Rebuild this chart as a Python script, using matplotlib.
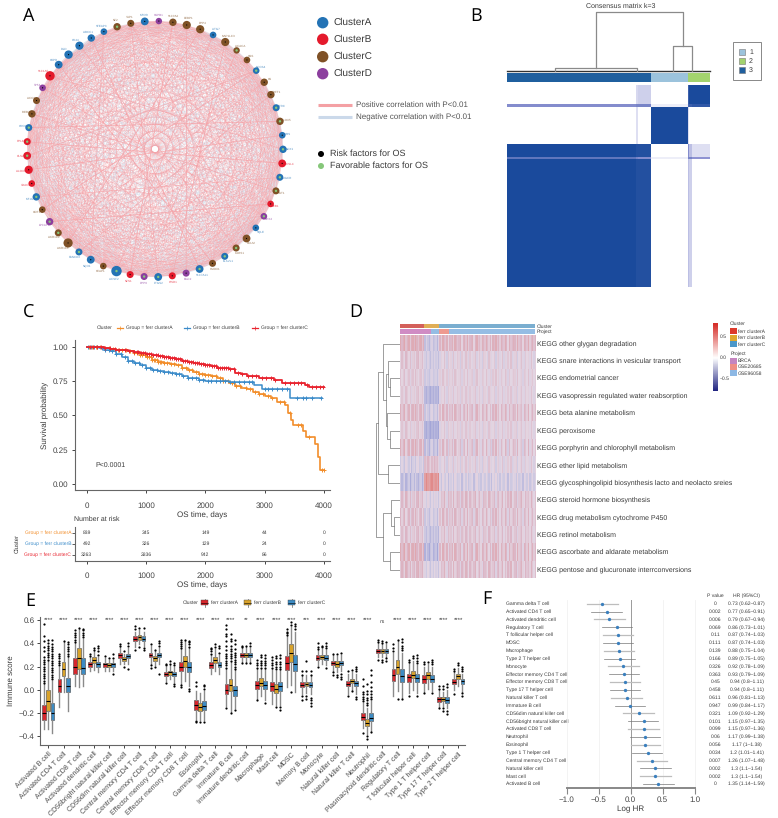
import numpy as np
import matplotlib
matplotlib.use("Agg")
import matplotlib.pyplot as plt
from matplotlib.collections import LineCollection
from matplotlib.colors import LinearSegmentedColormap
from matplotlib.patches import Circle, Rectangle

plt.rcParams['font.family'] = ['Liberation Sans', 'DejaVu Sans']
plt.rcParams['axes.linewidth'] = 0.8
plt.rcParams['text.hinting'] = 'no_hinting'
plt.rcParams['text.hinting_factor'] = 1

W, H = 778, 818
TXT = '#3a3a3a'
AX_GRAY = '#666666'

# --- Panel A data (clockwise from the top node) ---
node_cluster = list("DCCCACCCACCACAABACBDACCACADBADBACAACCDCABBBBACCDBAAAAACCA")
node_size = [3.2, 3.7, 4.1, 4.1, 3.3, 4.1, 3.2, 3.3, 3.3, 3.7, 3.7, 3.5, 3.7, 3.3, 3.7, 3.9, 3.5, 3.5,
             3.3, 3.3, 3.3, 3.9, 3.5, 3.5, 3.5, 3.9, 3.5, 3.5, 3.9, 3.5, 3.5, 5.2, 3.3, 3.9, 3.5, 4.6,
             3.5, 3.7, 3.3, 3.7, 3.3, 4.1, 3.9, 3.5, 3.5, 3.7, 3.5, 3.3, 4.7, 3.9, 4.2, 4.1, 3.7, 3.3,
             3.7, 3.5, 3.9]
node_factor = list("RRRRRRFRFRRFFRFRFFRFRRFFRFRRFFRFRRFRFFRFRRFFFRRRRRRRRRFRR")
node_genes = ["HSPB1", "SLC3A2", "PEBP1", "DPP4", "ATG7", "MAP1LC3", "ACACA", "GSS", "NCOA4", "CS", "FDFT1", "TFRC",
              "ALOX5", "CBS", "NOX1", "ACSL4", "HMGCR", "SAT1", "ZEB1", "GPX4", "SQLE", "GCLM", "CARS1", "ELAVL1",
              "HMOX1", "SLC7A11", "EMC2", "CISD1", "PTGS2", "DPP9", "NFS1", "ACSF2", "KEAP1", "NQO1", "FANCD2", "AKR1C1",
              "AKR1C2", "LPCAT3", "GOT1", "MT1G", "VDAC2", "ALOX15", "GLS2", "RPL8", "CDO1", "IREB2", "ACO1", "TP53",
              "SLC1A5", "G6PD", "PGD", "CD44", "ABCC1", "STEAP3", "NF2", "YAP1", "MTOR"]
# two loadings per node, their dot product stands for the pair correlation
load_1 = [.62, .81, .33, .93, -.52, .78, .14, .71, .47, .86, -.41, .95, .29, .66, -.63, .84, .52, .18, .91, .37, .79, -.55, .68, .93,
          .24, .57, -.72, .83, .41, .96, .12, .74, .88, -.38, .59, .97, .31, .53, .82, -.64, .72, .21, .49, .67, .85, .36, -.47, .92,
          .58, .77, .16, -.61, .44, .89, .83, .27, .7]
load_2 = [-.31, .42, .78, -.12, .55, .23, -.66, .38, .71, -.27, .63, .09, -.74, .35, .48, -.19, .82, -.58, .14, .69, -.36, .27, .57, -.41,
          .76, -.62, .18, .33, -.71, .06, .84, -.28, .22, .67, -.53, .11, .73, -.47, .29, .44, -.17, .79, -.64, .39, -.24, .68, .52, -.08,
          -.57, .32, .81, .26, -.69, .13, -.34, .75, .21]
strong_edges = [(55, 21), (55, 28), (8, 42), (8, 38), (27, 5), (12, 44), (48, 14), (30, 1), (24, 49), (18, 37), (51, 22), (41, 13),
                (36, 9), (39, 16), (4, 31), (2, 26), (45, 17), (33, 53), (47, 19), (10, 34), (6, 29), (25, 52), (43, 15), (3, 35)]
cluster_colors = {'A': '#2473b5', 'B': '#e41a2c', 'C': '#7f5126', 'D': '#8c3f9e'}

# --- Panel B data ---
consensus_cols = [82, 468, 474, 513, 623, 628, 637, 690]
consensus_rows = [255, 311, 320, 432, 470, 476, 860]
consensus = [[0.00, 0.18, 0.22, 0.00, 0.85, 1.00, 1.00],
             [0.55, 0.60, 0.60, 0.08, 0.80, 0.85, 0.90],
             [0.00, 0.15, 0.00, 1.00, 0.15, 0.00, 0.00],
             [1.00, 0.96, 0.96, 0.00, 0.55, 0.30, 0.15],
             [0.70, 0.60, 0.55, 0.08, 0.60, 0.60, 0.50],
             [1.00, 0.96, 0.96, 0.00, 0.30, 0.22, 0.00]]
consensus_bar = [(82, 513, '#1f5f9e'), (513, 623, '#9cc3dc'), (623, 690, '#a3d36e')]

# --- Panel C data ---
km_a_t = [0, 200, 300, 400, 500, 600, 700, 800, 900, 1000, 1100, 1200, 1300, 1400, 1500, 1600, 1700, 1800, 1900, 2000, 2100, 2200, 2300, 2400,
          2500, 2600, 2700, 2800, 2900, 3000, 3100, 3200, 3340, 3400, 3440, 3480, 3640, 3700, 3850, 3900, 3930, 4000]
km_a_s = [1.0, 1.0, .995, .985, .98, .975, .97, .955, .94, .925, .905, .89, .88, .875, .865, .85, .83, .815, .805, .795, .785, .77, .755, .735,
          .715, .70, .69, .675, .66, .64, .625, .60, .58, .52, .47, .43, .39, .34, .29, .20, .10, .10]
km_b_t = [0, 200, 300, 400, 500, 600, 700, 800, 900, 1000, 1100, 1200, 1300, 1400, 1500, 1600, 1700, 1800, 1900, 2000, 2400, 2820, 2950, 3430, 3960]
km_b_s = [1.0, .995, .98, .97, .95, .93, .90, .885, .87, .85, .83, .825, .815, .81, .80, .785, .775, .77, .76, .75, .745, .72, .695, .625, .625]
km_c_t = [0, 300, 400, 500, 600, 700, 800, 900, 1000, 1100, 1200, 1300, 1400, 1500, 1600, 1700, 1800, 1900, 2000, 2100, 2200, 2300, 2400, 2500, 2600, 2700, 2900, 3000, 3150, 3300, 3600, 3680, 3750, 4000]
km_c_s = [1.0, .995, .985, .98, .975, .97, .965, .955, .95, .943, .935, .928, .92, .91, .90, .892, .885, .878, .87, .86, .85, .845, .84, .81, .805, .785, .775, .77, .76, .74, .74, .72, .705, .705]
cens_a = [40, 90, 150, 220, 300, 380, 450, 520, 600, 660, 730, 800, 850, 900, 940, 980, 1020, 1050, 1080, 1100, 1130, 1150, 1180, 1200, 1230, 1260, 1300, 1350, 1420, 1480, 1540,
          1600, 1680, 1730, 1780, 1850, 1900, 1950, 2000, 2050, 2120, 2180, 2240, 2300, 2380, 2450, 2520, 2590, 2680, 2750, 2830, 2900, 2980, 3050, 3120, 3260, 3330, 3420, 3560, 3620, 3750, 3970, 4000]
cens_b = [30, 70, 120, 180, 250, 310, 380, 430, 500, 570, 640, 700, 760, 820, 880, 940, 1000, 1060, 1120, 1180, 1240, 1300, 1370, 1440, 1500,
          1560, 1630, 1700, 1770, 1840, 1900, 1960, 2040, 2100, 2180, 2250, 2330, 2420, 2490, 2570, 2650, 2730, 2790, 3000, 3060, 3130, 3210, 3300, 3370, 3540, 3640, 3700, 3800, 3950]
cens_c = [50, 110, 170, 240, 310, 390, 470, 550, 640, 720, 800, 840, 870, 910, 950, 985, 1020, 1055, 1090, 1125, 1160, 1195, 1230, 1265, 1300, 1335, 1370, 1405, 1440, 1475, 1510, 1545, 1580, 1615, 1650, 1685, 1720, 1755, 1790,
          1825, 1860, 1895, 1930, 1965, 2000, 2035, 2070, 2105, 2140, 2175, 2210, 2245, 2280, 2315, 2350, 2385, 2420, 2480, 2550, 2620, 2720, 2780, 2860, 2950, 3030, 3100, 3180, 3350, 3420, 3490, 3560, 3610, 3720, 3800, 3860, 3930, 3990]
risk_times = [0, 1000, 2000, 3000, 4000]
risk_a = [839, 345, 149, 44, 0]
risk_b = [492, 326, 129, 24, 0]
risk_c = [3263, 2836, 942, 86, 0]
km_colors = ['#f28e2b', '#3b8bc9', '#e8242f']
km_names = ['Group = ferr clusterA', 'Group = ferr clusterB', 'Group = ferr clusterC']

# --- Panel D data ---
kegg_labels = ["KEGG other glygan degradation", "KEGG snare interactions in vesicular transport", "KEGG endometrial cancer",
               "KEGG vasopressin regulated water reabsorption", "KEGG beta alanine metabolism", "KEGG peroxisome",
               "KEGG porphyrin and chlorophyll metabolism", "KEGG ether lipid metabolism",
               "KEGG glycosphingolipid biosynthesis lacto and neolacto sreies", "KEGG steroid hormone biosynthesis",
               "KEGG drug metabolism cytochrome P450", "KEGG retinol metabolism", "KEGG ascorbate and aldarate metabolism",
               "KEGG pentose and glucuronate interrconversions"]
kegg_a = [.22, .08, .07, .06, .15, .06, .15, -.06, -.16, .10, .11, .09, .20, .14]
kegg_b = [-.12, -.09, -.08, -.22, -.09, -.25, -.14, .13, .46, -.03, -.08, -.14, -.19, -.05]
kegg_c = [.17, .03, .05, .04, .12, .04, .08, .02, -.06, .10, .10, .08, .14, .11]
stripe_1 = [2, -1, 1, 3, -2, 0, 2, -3, 1, 2, -1, 3, 0, -2, 1, 2, -2, 1,
            -1, 2, 0, -2, 1, 2, -1, 0, 1, -2, 2,
            1, -2, 3, 0, -1, 2, -3, 1, 0, 2, -2, 3, 1, -1, 0, 2, -3, 1, 2, -1, 3, -2, 0, 1, 2, -3, 1, 3, -1, 0, -2, 2, 1, -1, 3,
            0, -2, 1, -3, 2, 0, 3, -1, 1, -2, 2, 0, -1, 3, 1, -3, 2, -1, 0, 2, 1, -2, 3, -1, 0, 1, -3, 2, 1, -1, 3, -2, 0, 2, -1, 1]
stripe_2 = [-1, 2, 0, -2, 3, 1, -1, 2, -3, 0, 1, -2, 2, 3, -1, 0, 2, -2,
            1, -1, 2, 0, -2, 1, -1, 2, 0, 1, -2,
            -2, 1, 0, 3, -1, -3, 2, 0, 1, -2, 3, -1, 0, 2, 1, -3, 2, 0, -1, 3, 1, -2, 2, 0, -1, 1, 3, -2, 0, 2, -1, -3, 2, 1, 0,
            -2, 3, 1, -1, 0, 2, -3, 1, 2, -1, 0, 3, -2, 1, -1, 2, 0, 3, -2, -1, 1, 2, -3, 0, 1, 3, -1, -2, 2, 0, 1, -1, 3, 0, -2, 1]
kegg_amp = [.06, .05, .04, .04, .06, .04, .07, .05, .05, .06, .06, .05, .07, .06]
# nested merges: (height, left, right), a plain int is a row
kegg_tree = (72, (64, (49, 0, (42, (34, 1, (29, 2, 3)), (39, 4, (29, 5, 6)))), (34, 7, 8)),
             (49, (27, 9, (17, 10, 11)), (29, 12, 13)))

# --- Panel E data: each row is q1, median, q3, whisker low, whisker high ---
cells_e = ["Activated B cell", "Activated CD4 T cell", "Activated CD8 T cell", "Activated dendritic cell", "CD56bright natural killer cell",
           "CD56dim natural killer cell", "Central memory CD4 T cell", "Central memory CD8 T cell", "Effector memory CD4 T cell",
           "Effector memory CD8 T cell", "Eosinophil", "Gamma delta T cell", "Immature B cell", "Immature dendritic cell", "Macrophage",
           "Mast cell", "MDSC", "Memory B cell", "Monocyte", "Natural killer cell", "Natural killer T cell", "Neutrophil",
           "Plasmacytoid dendritic cell", "Regulatory T cell", "T follicular helper cell", "Type 1 T helper cell", "Type 17 T helper cell", "Type 2 T helper cell"]
sig_e = ["****"] * 28
sig_e[13] = "**"
sig_e[17] = "***"
sig_e[22] = "ns"
box_a = [(-.26, -.20, -.13, -.34, .05), (-.02, .03, .09, -.15, .20), (.14, .20, .27, .03, .40), (.20, .22, .24, .16, .28),
         (.20, .22, .23, .16, .27), (.27, .295, .32, .22, .37), (.42, .44, .46, .37, .50), (.28, .30, .32, .22, .38),
         (.12, .14, .155, .08, .20), (.16, .20, .24, .05, .35), (-.17, -.13, -.09, -.25, -.01), (.19, .215, .24, .14, .30),
         (-.04, 0, .05, -.14, .18), (.28, .30, .315, .24, .36), (.01, .045, .08, -.08, .18), (-.01, .03, .07, -.12, .18),
         (.17, .23, .29, .02, .46), (.02, .045, .065, -.04, .12), (.26, .275, .295, .21, .34), (.21, .23, .245, .16, .30),
         (.03, .05, .075, -.04, .14), (-.26, -.23, -.20, -.33, -.11), (.315, .335, .35, .28, .40), (.08, .13, .18, -.05, .32),
         (.07, .11, .14, -.03, .23), (.06, .09, .125, -.02, .20), (-.105, -.08, -.06, -.15, 0), (.05, .07, .09, 0, .15)]
box_b = [(-.18, -.10, 0, -.34, .25), (.12, .18, .24, -.02, .41), (.18, .27, .36, .02, .52), (.23, .255, .28, .17, .33),
         (.20, .215, .23, .16, .26), (.25, .265, .28, .22, .31), (.43, .45, .47, .39, .51), (.25, .27, .29, .21, .33),
         (.13, .15, .165, .09, .21), (.20, .245, .29, .08, .42), (-.185, -.15, -.11, -.26, -.03), (.23, .255, .28, .16, .35),
         (-.01, .04, .09, -.19, .24), (.28, .295, .32, .24, .37), (.03, .06, .10, -.05, .18), (-.03, .005, .05, -.13, .16),
         (.24, .32, .39, .04, .54), (.03, .05, .07, -.03, .13), (.265, .285, .30, .22, .35), (.20, .225, .245, .15, .29),
         (.055, .075, .095, 0, .15), (-.31, -.285, -.25, -.38, -.16), (.32, .335, .35, .28, .39), (.14, .20, .26, -.01, .42),
         (.10, .13, .165, 0, .25), (.09, .125, .15, .01, .22), (-.10, -.08, -.06, -.14, -.02), (.09, .115, .135, .03, .19)]
box_c = [(-.26, -.20, -.11, -.37, .08), (-.02, .03, .10, -.18, .28), (.14, .19, .27, .03, .44), (.20, .22, .24, .15, .28),
         (.20, .22, .23, .16, .26), (.27, .29, .31, .22, .36), (.42, .44, .46, .38, .50), (.28, .30, .315, .22, .36),
         (.12, .135, .155, .07, .20), (.15, .20, .24, .03, .36), (-.17, -.135, -.10, -.26, -.01), (.195, .215, .24, .14, .30),
         (-.05, 0, .03, -.16, .17), (.28, .295, .315, .24, .36), (.01, .045, .08, -.09, .18), (-.01, .03, .07, -.13, .17),
         (.16, .22, .30, -.02, .50), (.02, .045, .065, -.04, .12), (.26, .275, .295, .21, .34), (.21, .23, .25, .16, .30),
         (.03, .055, .075, -.04, .14), (-.27, -.24, -.20, -.35, -.10), (.32, .335, .35, .28, .39), (.07, .12, .175, -.07, .32),
         (.07, .105, .135, -.03, .21), (.07, .095, .125, -.01, .20), (-.11, -.085, -.06, -.16, 0), (.05, .075, .095, -.02, .14)]
flier_a = [[.06, .08, .10, .12, .14, .16, .18, .20, .22, .24, .26, .28, .33, .37, .42, .46, .57], [.21, .23, .25, .27, .29, .31], [.41, .43, .45, .47, .49, .51], [.29, .31], [.29], [.38, .39], [.34, .52, .55], [.19, .21, .39],
           [.06, .21, .22], [.02, .04, .36, .38, .39, .41, .43], [.03, .07, -.27, -.28], [.31, .33, .35, .36], [.19, .21, .23, .25, .27, .29, .31, .34, .38, .42, .46, .48, .52, .56, -.16], [.23, .37, .38], [.19, .21, .23, .26, -.09], [.19, .21, .23, .26, .28],
           [.47, .49, .50, .52], [.13, .16, -.05, -.09], [.35, .37, .40, .20], [.31, .15, .13], [.16, -.05], [-.10, -.08, -.06, -.04, -.02, .03, .09, -.37], [.41, .43, .26], [.33, .36, .39],
           [.24, .26, -.05], [.22, .24, -.03], [.01, .03, -.16], [.16, .18, -.04]]
flier_b = [[.26, .28, .30, .32, .34, .36, .38, .40, .43], [.42], [.53], [.34, .36], [.27], [.33, .20], [.53, .37], [.34, .20],
           [.22, .25], [.43], [-.28], [.37, .39], [.25, .27, .29, .31, .33, .35, .38, .42, .44, .48, -.20], [.38, .23], [.19, .21, .23, .25, .28, .30], [.18, .20, .22, .24, .27, .29, -.15],
           [.56, .58, -.02], [.16, .25, -.05, -.08], [.37, .38], [.31, .13, .11], [.17, -.01], [-.13, -.11, -.09, -.07, -.04, -.01, .05, -.40, -.42], [.40, .42, .24, .26], [.43, -.08],
           [.27, .29], [.24], [.01, .03, -.16, -.18], [.21, .23]]
flier_c = [[.09, .11, .13, .15, .17, .19, .21, .23, .25, .27, .29, .31, .33, .35, .37, .39, .43], [.29, .31, .33, .35, .37, .39, .41], [.45, .47, .49, .51, .52], [.30, .33, .36, .38], [.27, .31, .14], [.38, .40, .18], [.53, .34, .36], [.38, .40, .42, .14],
           [.21, .23, .03, .05], [.37, .39, .41, .42, -.01, .01], [.01, .03, .04, -.28], [.32, .36, .38], [.18, .20, .22, .24, .26, .28, .30, .32, .35, .39, .43, -.17], [.38, .40, .23], [.19, .21, .23, .25, .27, .30, -.11], [.18, .20, .22, .24, .27, .30, -.15, -.17],
           [.52, .55, .57], [.13, .16, -.07, -.09, -.11, -.14], [.36, .38, .40, .19], [.32, .14, .11, .09], [.16, .18, .20, -.06, -.08], [-.08, -.06, -.04, -.01, .02, .07, .13, .17, -.36], [.41, .25, .27], [.34, .36, .38, .41, .44, -.08],
           [.23, .25, .27, .30, -.05], [.22, .24, .26, -.03], [.02, .05, -.18, -.21], [.16, .18, .20, -.03, -.05]]
box_colors = ['#d8262c', '#d9a32b', '#3d8cc4']

# --- Panel F data ---
cells_f = ["Gamma delta T cell", "Activated CD4 T cell", "Activated dendritic cell", "Regulatory T cell", "T follicular helper cell", "MDSC",
           "Macrophage", "Type 2 T helper cell", "Monocyte", "Effector memory CD4 T cell", "Effector memory CD8 T cell", "Type 17 T helper cell",
           "Natural killer T cell", "Immature B cell", "CD56dim natural killer cell", "CD56bright natural killer cell", "Activated CD8 T cell",
           "Neutrophil", "Eosinophil", "Type 1 T helper cell", "Central memory CD4 T cell", "Natural killer cell", "Mast cell", "Activated B cell"]
p_vals = ["0", "0.002", "0.006", "0.069", "0.11", "0.111", "0.139", "0.166", "0.326", "0.363", "0.45", "0.458", "0.611", "0.947", "0.321", "0.101",
          "0.099", "0.06", "0.056", "0.034", "0.007", "0.002", "0.002", "0"]
hr_txt = ["0.73 (0.62–0.87)", "0.77 (0.65–0.91)", "0.79 (0.67–0.94)", "0.86 (0.73–1.01)", "0.87 (0.74–1.03)", "0.87 (0.74–1.03)", "0.88 (0.75–1.04)",
          "0.89 (0.75–1.05)", "0.92 (0.78–1.09)", "0.93 (0.79–1.09)", "0.94 (0.8–1.11)", "0.94 (0.8–1.11)", "0.96 (0.81–1.13)", "0.99 (0.84–1.17)",
          "1.09 (0.92–1.29)", "1.15 (0.97–1.35)", "1.15 (0.97–1.36)", "1.17 (0.99–1.38)", "1.17 (1–1.38)", "1.2 (1.01–1.41)", "1.26 (1.07–1.48)",
          "1.3 (1.1–1.54)", "1.3 (1.1–1.54)", "1.35 (1.14–1.59)"]
hr_val = [.73, .77, .79, .86, .87, .87, .88, .89, .92, .93, .94, .94, .96, .99, 1.09, 1.15, 1.15, 1.17, 1.17, 1.2, 1.26, 1.3, 1.3, 1.35]
hr_lo = [.62, .65, .67, .73, .74, .74, .75, .75, .78, .79, .8, .8, .81, .84, .92, .97, .97, .99, 1, 1.01, 1.07, 1.1, 1.1, 1.14]
hr_hi = [.87, .91, .94, 1.01, 1.03, 1.03, 1.04, 1.05, 1.09, 1.09, 1.11, 1.11, 1.13, 1.17, 1.29, 1.35, 1.36, 1.38, 1.38, 1.41, 1.48, 1.54, 1.54, 1.59]


def axpx(x0, y0, x1, y1):
    # axes from pixel box, y measured from the top
    ax = fig.add_axes([x0 / W, 1 - y1 / H, (x1 - x0) / W, (y1 - y0) / H])
    ax.patch.set_alpha(0)
    return ax


fig = plt.figure(figsize=(W / 100, H / 100), dpi=100)
bg = fig.add_axes([0, 0, 1, 1])
bg.set_xlim(0, W)
bg.set_ylim(H, 0)
bg.axis('off')

for letter, lx, ly in [('A', 29, 16), ('B', 476, 16), ('C', 29, 312), ('D', 356, 312), ('E', 30, 601), ('F', 487, 599)]:
    bg.text(lx, ly, letter, fontsize=13, family='Open Sans', color='black', ha='center', va='center')

# --- Panel A ---
cx, cy, rad = 155, 149, 128
n_nodes = len(node_cluster)
ang = np.pi / 2 - 0.03 - 2 * np.pi * np.arange(n_nodes) / n_nodes
nx = cx + rad * np.cos(ang)
ny = cy - rad * np.sin(ang)
neg, pos = [], []
for i in range(n_nodes):
    for j in range(i + 1, n_nodes):
        r = load_1[i] * load_1[j] + load_2[i] * load_2[j]
        seg = [(nx[i], ny[i]), (nx[j], ny[j])]
        if r > 0.34:
            pos.append(seg)
        elif r < 0.02:
            neg.append(seg)
bg.add_collection(LineCollection(neg, colors='#d0dbea', linewidths=0.3, alpha=0.6))
bg.add_collection(LineCollection(pos, colors='#f59aa0', linewidths=0.28, alpha=0.55))
strong = [[(nx[i], ny[i]), (nx[j], ny[j])] for i, j in strong_edges]
bg.add_collection(LineCollection(strong, colors='#f6a4a9', linewidths=0.55, alpha=0.75))
for i in range(n_nodes):
    col = cluster_colors[node_cluster[i]]
    bg.add_patch(Circle((nx[i], ny[i]), node_size[i], color=col, lw=0, zorder=4))
    inner = 'black' if node_factor[i] == 'R' else '#86c77a'
    rin = 0.6 if node_factor[i] == 'R' else 1.2
    bg.add_patch(Circle((nx[i], ny[i]), rin, color=inner, lw=0, zorder=5))
    lr = rad + node_size[i] + 2.8
    bg.text(cx + lr * np.cos(ang[i]), cy - lr * np.sin(ang[i]), node_genes[i], fontsize=2.1, color=col, alpha=0.8,
            ha='center', va='center', zorder=5)

for name, ly in zip('ABCD', [22.7, 39.3, 56.7, 73.7]):
    bg.add_patch(Circle((322.7, ly), 5.7, color=cluster_colors[name], lw=0))
    bg.text(333, ly, 'Cluster' + name, fontsize=7, color=TXT, va='center')
bg.plot([318, 352], [105, 105], color='#f4a0a4', lw=2.2, solid_capstyle='butt')
bg.plot([318, 352], [117, 117], color='#cbd9ea', lw=2.2, solid_capstyle='butt')
bg.text(356, 105, 'Positive correlation with P<0.01', fontsize=6, color='#555555', va='center')
bg.text(356, 117, 'Negative correlation with P<0.01', fontsize=6, color='#555555', va='center')
bg.add_patch(Circle((321, 154), 3, color='black', lw=0))
bg.add_patch(Circle((321, 166), 3, color='#86c77a', lw=0))
bg.text(330, 154, 'Risk factors for OS', fontsize=6.8, color=TXT, va='center')
bg.text(330, 166, 'Favorable factors for OS', fontsize=6.8, color=TXT, va='center')

# --- Panel B ---
def zx(v):
    return 480 + v / 3


def zy(v):
    return v / 3


blues = LinearSegmentedColormap.from_list('blues_cons', ['white', '#8f93d2', '#1a4a9c'])
ax_b = axpx(zx(82), zy(255), zx(690), zy(860))
ax_b.pcolormesh(consensus_cols, consensus_rows, np.array(consensus), cmap=blues, vmin=0, vmax=1, rasterized=True)
ax_b.set_ylim(860, 255)
ax_b.axis('off')
for x0, x1, col in consensus_bar:
    bg.add_patch(Rectangle((zx(x0), zy(220)), (x1 - x0) / 3, 26 / 3, color=col, lw=0))
tree_col = '#8a8a8a'
bg.plot([zx(82), zx(690)], [zy(212), zy(212)], color='#333333', lw=1)
bg.plot([zx(226), zx(226), zx(472), zx(472)], [zy(212), zy(203), zy(203), zy(212)], color=tree_col, lw=0.9)
bg.plot([zx(580), zx(580), zx(637), zx(637)], [zy(212), zy(137), zy(137), zy(212)], color=tree_col, lw=0.9)
bg.plot([zx(349), zx(349), zx(609), zx(609)], [zy(203), zy(35), zy(35), zy(137)], color=tree_col, lw=0.9)
bg.text(620.7, 6, 'Consensus matrix k=3', fontsize=5.2, color=TXT, ha='center', va='center')
bg.add_patch(Rectangle((732.7, 42), 28, 38, fc='white', ec='#888888', lw=0.7))
for lab, ly, col in zip(['1', '2', '3'], [52, 61, 70], ['#9cc3dc', '#a3d36e', '#1f5f9e']):
    bg.add_patch(Rectangle((739.5, ly - 2.7), 6, 5.4, fc=col, ec='#777777', lw=0.4))
    bg.text(749, ly, lab, fontsize=5, color=TXT, va='center')

# --- Panel C ---
ax_c = axpx(74.7, 340, 330, 490.3)
km_sets = [(km_a_t, km_a_s, cens_a, 1.2), (km_b_t, km_b_s, cens_b, 1.1), (km_c_t, km_c_s, cens_c, 1.3)]
for (tt, ss, cens, lw), col in zip(km_sets, km_colors):
    ax_c.step(tt, ss, where='post', color=col, lw=lw)
    idx = np.searchsorted(tt, cens, side='right') - 1
    ax_c.plot(cens, np.array(ss)[idx], '+', color=col, ms=3, mew=0.7)
ax_c.set_xlim(-202, 4101)
ax_c.set_ylim(-0.046, 1.051)
ax_c.set_xticks(risk_times)
ax_c.set_yticks([0, .25, .5, .75, 1])
ax_c.set_yticklabels(['0.00', '0.25', '0.50', '0.75', '1.00'])
ax_c.tick_params(labelsize=6, length=2.5, width=0.7, colors='#444444', pad=2)
ax_c.tick_params(axis='x', pad=6)
ax_c.set_xlabel('OS time, days', fontsize=6, color=TXT, labelpad=1.5)
ax_c.set_ylabel('Survival probability', fontsize=6, color=TXT, labelpad=3)
ax_c.spines[['top', 'right']].set_visible(False)
ax_c.spines[['left', 'bottom']].set_color(AX_GRAY)
ax_c.text(150, .14, 'P<0.0001', fontsize=4.8, color=TXT, va='center')

bg.text(97, 328, 'Cluster', fontsize=3.6, color=TXT, va='center')
for x0, col, name in zip([117, 184, 252], km_colors, km_names):
    bg.plot([x0, x0 + 6.5], [328, 328], color=col, lw=0.9)
    bg.plot([x0 + 3.2], [328], '+', color=col, ms=2.2, mew=0.5)
    bg.text(x0 + 9, 328, name, fontsize=3.6, color=TXT, va='center')

bg.text(74, 519, 'Number at risk', fontsize=5, color=TXT, va='center')
ax_r = axpx(74.7, 527, 330, 560.7)
ax_r.set_xlim(-202, 4101)
ax_r.set_ylim(3.05, 0)
for row, vals in enumerate([risk_a, risk_b, risk_c]):
    for t, v in zip(risk_times, vals):
        ax_r.text(t, row + .5, str(v), fontsize=3.5, color=TXT, ha='center', va='center')
ax_r.set_xticks(risk_times)
ax_r.set_yticks([.5, 1.5, 2.5])
ax_r.set_yticklabels(km_names)
for lab, col in zip(ax_r.get_yticklabels(), km_colors):
    lab.set_color(col)
ax_r.tick_params(axis='y', labelsize=3.6, length=2, width=0.6, pad=0.5, color='#444444')
ax_r.tick_params(axis='x', labelsize=6, length=2.5, width=0.7, colors='#444444', pad=6)
ax_r.set_xlabel('OS time, days', fontsize=6, color=TXT, labelpad=1.5)
ax_r.spines[['top', 'right']].set_visible(False)
ax_r.spines[['left', 'bottom']].set_color(AX_GRAY)
bg.text(17, 543.5, 'Cluster', fontsize=4.2, color=TXT, rotation=90, ha='center', va='center')

# --- Panel D ---
def dx(v):
    return 345 + v / 3


def dy(v):
    return 290 + v / 3


red_blue = LinearSegmentedColormap.from_list('rb', ['#1b1f7e', '#ffffff', '#d62f2a'])
# the cells blur to mauve in print, so the heatmap gets its own softer scale
mauve = LinearSegmentedColormap.from_list('mauve', [(0, '#1b1f7e'), (0.31, '#a4a6d8'), (0.44, '#cfcae2'), (0.52, '#e4d6e2'),
                                                    (0.62, '#dcb6c6'), (0.8, '#e39c9c'), (1, '#d62f2a')])
base = np.array([kegg_a, kegg_b, kegg_c])
section = [0] * 18 + [1] * 11 + [2] * 71
kegg_mat = np.zeros((14, 100))
for r in range(14):
    strp = stripe_1 if r % 2 == 0 else stripe_2
    kegg_mat[r] = base[section, r] + kegg_amp[r] * np.array(strp) * 0.7
ax_d = axpx(399.7, 335, 535, 578.3)
ax_d.imshow(kegg_mat, aspect='auto', cmap=mauve, vmin=-0.8, vmax=0.8, extent=(0, 100, 14, 0), interpolation='nearest')
ax_d.axis('off')
for i, lab in enumerate(kegg_labels):
    bg.text(537, 335 + 17.383 * (i + .5), lab, fontsize=4.95, color=TXT, va='center')
for x0, x1, col in [(164, 238, '#d4605a'), (238, 282, '#e0ae56'), (282, 570, '#7aaed0')]:
    bg.add_patch(Rectangle((dx(x0), dy(101)), (x1 - x0) / 3, 14 / 3, color=col, lw=0))
for x0, x1, col in [(164, 258, '#d08cc4'), (258, 283, '#95bde4'), (283, 311, '#ee9a90'), (311, 570, '#95bde4')]:
    bg.add_patch(Rectangle((dx(x0), dy(118)), (x1 - x0) / 3, 13 / 3, color=col, lw=0))
bg.text(536.5, dy(110), 'Cluster', fontsize=3.4, color=TXT, va='center')
bg.text(536.5, dy(125), 'Project', fontsize=3.4, color=TXT, va='center')

ax_tree = axpx(375.7, 335, 399.7, 578.3)
ax_tree.set_xlim(72, 0)
ax_tree.set_ylim(14, 0)
ax_tree.axis('off')


def draw_tree(node):
    # returns the y position and height of a merge
    if isinstance(node, int):
        return node + .5, 0
    h, left, right = node
    y1, h1 = draw_tree(left)
    y2, h2 = draw_tree(right)
    ax_tree.plot([h1, h, h, h2], [y1, y1, y2, y2], color='#777777', lw=0.5)
    return (y1 + y2) / 2, h


draw_tree(kegg_tree)

ax_cb = axpx(dx(1105), dy(100), dx(1119), dy(302))
ax_cb.imshow(np.linspace(0.82, -0.78, 128)[:, None], aspect='auto', cmap=red_blue, vmin=-0.8, vmax=0.8)
ax_cb.axis('off')
for val, lab in zip([140, 203, 267], ['0.5', '0.0', '−0.5']):
    bg.text(dx(1125), dy(val), lab, fontsize=3.4, color=TXT, va='center')
bg.text(dx(1155), dy(101), 'Cluster', fontsize=3.6, color=TXT, va='center')
bg.text(dx(1157), dy(192), 'Project', fontsize=3.6, color=TXT, va='center')
for yy, col, lab in zip([114, 134, 153], ['#dc3a2c', '#dfa82e', '#4a97c9'], ['ferr clusterA', 'ferr clusterB', 'ferr clusterC']):
    bg.add_patch(Rectangle((dx(1156), dy(yy)), 20 / 3, 19 / 3, color=col, lw=0))
    bg.text(dx(1179), dy(yy + 10), lab, fontsize=3.4, color=TXT, va='center')
for yy, col, lab in zip([203, 222, 241], ['#c585c0', '#ef8f85', '#8db8e4'], ['BRCA', 'GSE20685', 'GSE96058']):
    bg.add_patch(Rectangle((dx(1156), dy(yy)), 20 / 3, 18 / 3, color=col, lw=0))
    bg.text(dx(1179), dy(yy + 9), lab, fontsize=3.4, color=TXT, va='center')

# --- Panel E ---
ax_e = axpx(40, 617, 465, 745)
x_pos = np.arange(len(cells_e))
offsets = [-0.27, 0, 0.27]
for rows, fl, col, off in zip([box_a, box_b, box_c], [flier_a, flier_b, flier_c], box_colors, offsets):
    stats = []
    for r, f in zip(rows, fl):
        stats.append(dict(q1=r[0], med=r[1], q3=r[2], whislo=r[3], whishi=r[4], fliers=f))
    ax_e.bxp(stats, positions=x_pos + off, widths=0.25, patch_artist=True, showcaps=False, manage_ticks=False,
             boxprops=dict(facecolor=col, edgecolor='#444444', linewidth=0.4),
             medianprops=dict(color='black', linewidth=0.8),
             whiskerprops=dict(color='#8a8a8a', linewidth=1.0),
             flierprops=dict(marker='o', markersize=1.6, markerfacecolor='black', markeredgecolor='black', markeredgewidth=0))
ax_e.set_xlim(-0.55, 27.44)
ax_e.set_ylim(-0.4745, 0.626)
ax_e.set_xticks(x_pos)
ax_e.set_xticklabels(cells_e, rotation=45, ha='right', rotation_mode='anchor', fontsize=4.7, color='#444444')
ax_e.set_yticks([-.4, -.2, 0, .2, .4, .6])
ax_e.set_yticklabels(['−0.4', '−0.2', '0.0', '0.2', '0.4', '0.6'], fontsize=6, color='#444444')
ax_e.tick_params(axis='both', length=2.5, width=0.7, color='#444444', pad=1.5)
ax_e.set_ylabel('Immune score', fontsize=6, color=TXT, labelpad=3)
ax_e.spines[['top', 'right']].set_visible(False)
ax_e.spines[['left', 'bottom']].set_color(AX_GRAY)
for xp, s in zip(x_pos, sig_e):
    ax_e.text(xp, 0.585 if s == 'ns' else 0.6, s, fontsize=4.5 if s != 'ns' else 3.8, color=TXT, ha='center', va='center')

bg.text(183, 602.7, 'Cluster', fontsize=3.6, color=TXT, va='center')
for x0, col, lab in zip([205, 248, 292], box_colors, ['ferr clusterA', 'ferr clusterB', 'ferr clusterC']):
    bg.plot([x0, x0], [598.5, 607], color='#666666', lw=0.5)
    bg.add_patch(Rectangle((x0 - 3.5, 600), 7, 5, fc=col, ec='#444444', lw=0.3, zorder=3))
    bg.plot([x0 - 3.5, x0 + 3.5], [602.5, 602.5], color='black', lw=0.4, zorder=4)
    bg.text(x0 + 6.5, 602.7, lab, fontsize=3.6, color=TXT, va='center')

# --- Panel F ---
ax_f = axpx(566.7 - 12.8, 600, 694.7 + 12.8, 787.7)
ys = np.arange(len(cells_f))
log_hr = np.log2(hr_val)
log_lo = np.log2(hr_lo)
log_hi = np.log2(hr_hi)
ax_f.set_xlim(-1.2, 1.2)
ax_f.set_ylim((787.7 - 603.7) / 7.84, (600 - 603.7) / 7.84)
for xg in [-1, -.5, .5, 1]:
    ax_f.axvline(xg, color='#eeeeee', lw=0.5, zorder=0)
ax_f.axvline(0, color='#9a9a9a', lw=0.7, zorder=1)
for i in ys:
    thick = i % 2 == 0
    ax_f.plot([log_lo[i], log_hi[i]], [i, i], color='#bdbdbd' if thick else '#777777', lw=0.9 if thick else 0.5, zorder=2)
ax_f.plot(log_hr, ys, 'o', color='#3a7fbd', ms=2.4, mew=0, zorder=3)
ax_f.spines[['top', 'right', 'left']].set_visible(False)
ax_f.spines['bottom'].set_color('#888888')
ax_f.spines['bottom'].set_linewidth(1.4)
ax_f.spines['bottom'].set_bounds(-1, 1)
ax_f.set_yticks([])
ax_f.set_xticks([-1, -.5, 0, .5, 1])
ax_f.set_xticklabels(['−1.0', '−0.5', '0.0', '0.5', '1.0'], fontsize=5.6, color='#444444')
ax_f.tick_params(axis='x', length=4, width=0.8, color='#888888', pad=2)
ax_f.set_xlabel('Log HR', fontsize=5.6, color=TXT, labelpad=1.5)
for i in ys:
    yy = 603.7 + 7.84 * i
    bg.text(506, yy, cells_f[i], fontsize=3.7, color=TXT, va='center')
    bg.text(715.3, yy, p_vals[i], fontsize=3.6, color=TXT, ha='center', va='center')
    bg.text(746.7, yy, hr_txt[i], fontsize=3.6, color=TXT, ha='center', va='center')
bg.text(715.3, 596, 'P value', fontsize=3.8, color=TXT, ha='center', va='center')
bg.text(746.7, 596, 'HR (95%CI)', fontsize=3.8, color=TXT, ha='center', va='center')

fig.savefig('out.png', dpi=100)
